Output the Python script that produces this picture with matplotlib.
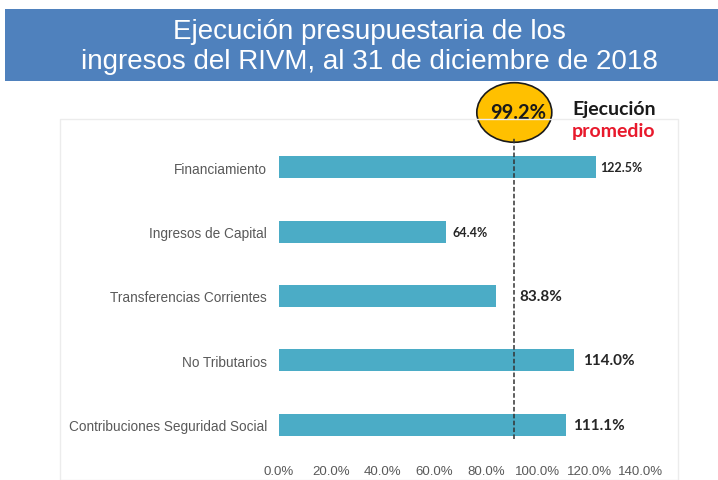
import numpy as np
import matplotlib
matplotlib.use('Agg')
import matplotlib.pyplot as plt
from matplotlib.patches import Rectangle, Ellipse
from matplotlib import transforms

# data
categorias = ['Financiamiento', 'Ingresos de Capital', 'Transferencias Corrientes',
              'No Tributarios', 'Contribuciones Seguridad Social']
ejecucion = [122.5, 64.4, 83.8, 114.0, 111.1]
promedio_texto = '99.2%'
promedio_linea = 91.0  # where the dashed line is drawn in the picture
xticks = [0, 20, 40, 60, 80, 100, 120, 140]

# label styling (size in pt, offset in pt)
label_sizes = [9, 9, 11, 11, 11]
label_offsets = [3, 5, 17, 7, 5]

plt.rcParams['font.family'] = ['Liberation Sans', 'DejaVu Sans']

fig = plt.figure(figsize=(7.18, 4.81), dpi=100)

# title band
fig.patches.append(Rectangle((5/718, 1-82/481), 1, 72/481, transform=fig.transFigure,
                             facecolor='#4F81BD', edgecolor='none', zorder=0))
fig.text(0.515, 1-47/481, 'Ejecución presupuestaria de los\ningresos del RIVM, al 31 de diciembre de 2018',
         ha='center', va='center', color='white', fontsize=20, linespacing=1.2)

# faint chart frame
fig.patches.append(Rectangle((60/718, 0), 618/718, 1-120/481, transform=fig.transFigure,
                             facecolor='none', edgecolor='#ececec', lw=1, zorder=0))

ax = fig.add_axes([279/718, 23/481, 362/718, 322/481])
y = np.arange(len(categorias))
ax.barh(y, ejecucion, height=0.34, color='#4BACC6')
ax.set_ylim(len(categorias)-0.5, -0.5)
ax.set_xlim(0, 140)
ax.set_yticks(y)
ax.set_yticklabels(categorias, fontsize=9.8, color='#595959')
ax.set_xticks(xticks)
ax.set_xticklabels(['%.1f%%' % t for t in xticks], fontsize=9.5, color='#595959')
ax.tick_params(length=0)
ax.tick_params(axis='y', pad=8.5)
ax.tick_params(axis='x', pad=6)
for s in ax.spines.values():
    s.set_visible(False)

for i, v in enumerate(ejecucion):
    ax.annotate('%.1f%%' % v, (v, i), xytext=(label_offsets[i], 0), textcoords='offset points',
                va='center', ha='left', fontsize=label_sizes[i], fontweight='bold',
                color='#262626', family=['Lato', 'DejaVu Sans'])

# average line and badge
ax.axvline(promedio_linea, ymin=0.056, ymax=0.99, color='#333333', ls=(0, (3, 1.5)), lw=1.1)
trans = transforms.blended_transform_factory(ax.transData, ax.transAxes)
ax.add_patch(Ellipse((promedio_linea, 1.07), 29, 0.185, transform=trans, clip_on=False,
                     facecolor='#FFC000', edgecolor='#1a1a1a', lw=1.2))
ax.text(promedio_linea + 1.5, 1.07, promedio_texto, transform=trans, ha='center', va='center',
        fontsize=14.5, fontweight='bold', color='#1a1a1a', family=['Lato', 'DejaVu Sans'])
ax.text(572/718, 1-110/481, 'Ejecución', transform=fig.transFigure, ha='left', va='center',
        fontsize=14, fontweight='bold', color='#1a1a1a', family=['Lato', 'DejaVu Sans'])
ax.text(572/718, 1-131/481, 'promedio', transform=fig.transFigure, ha='left', va='center',
        fontsize=14, fontweight='bold', color='#E8192C', family=['Lato', 'DejaVu Sans'])

fig.savefig('out.png', dpi=100)
